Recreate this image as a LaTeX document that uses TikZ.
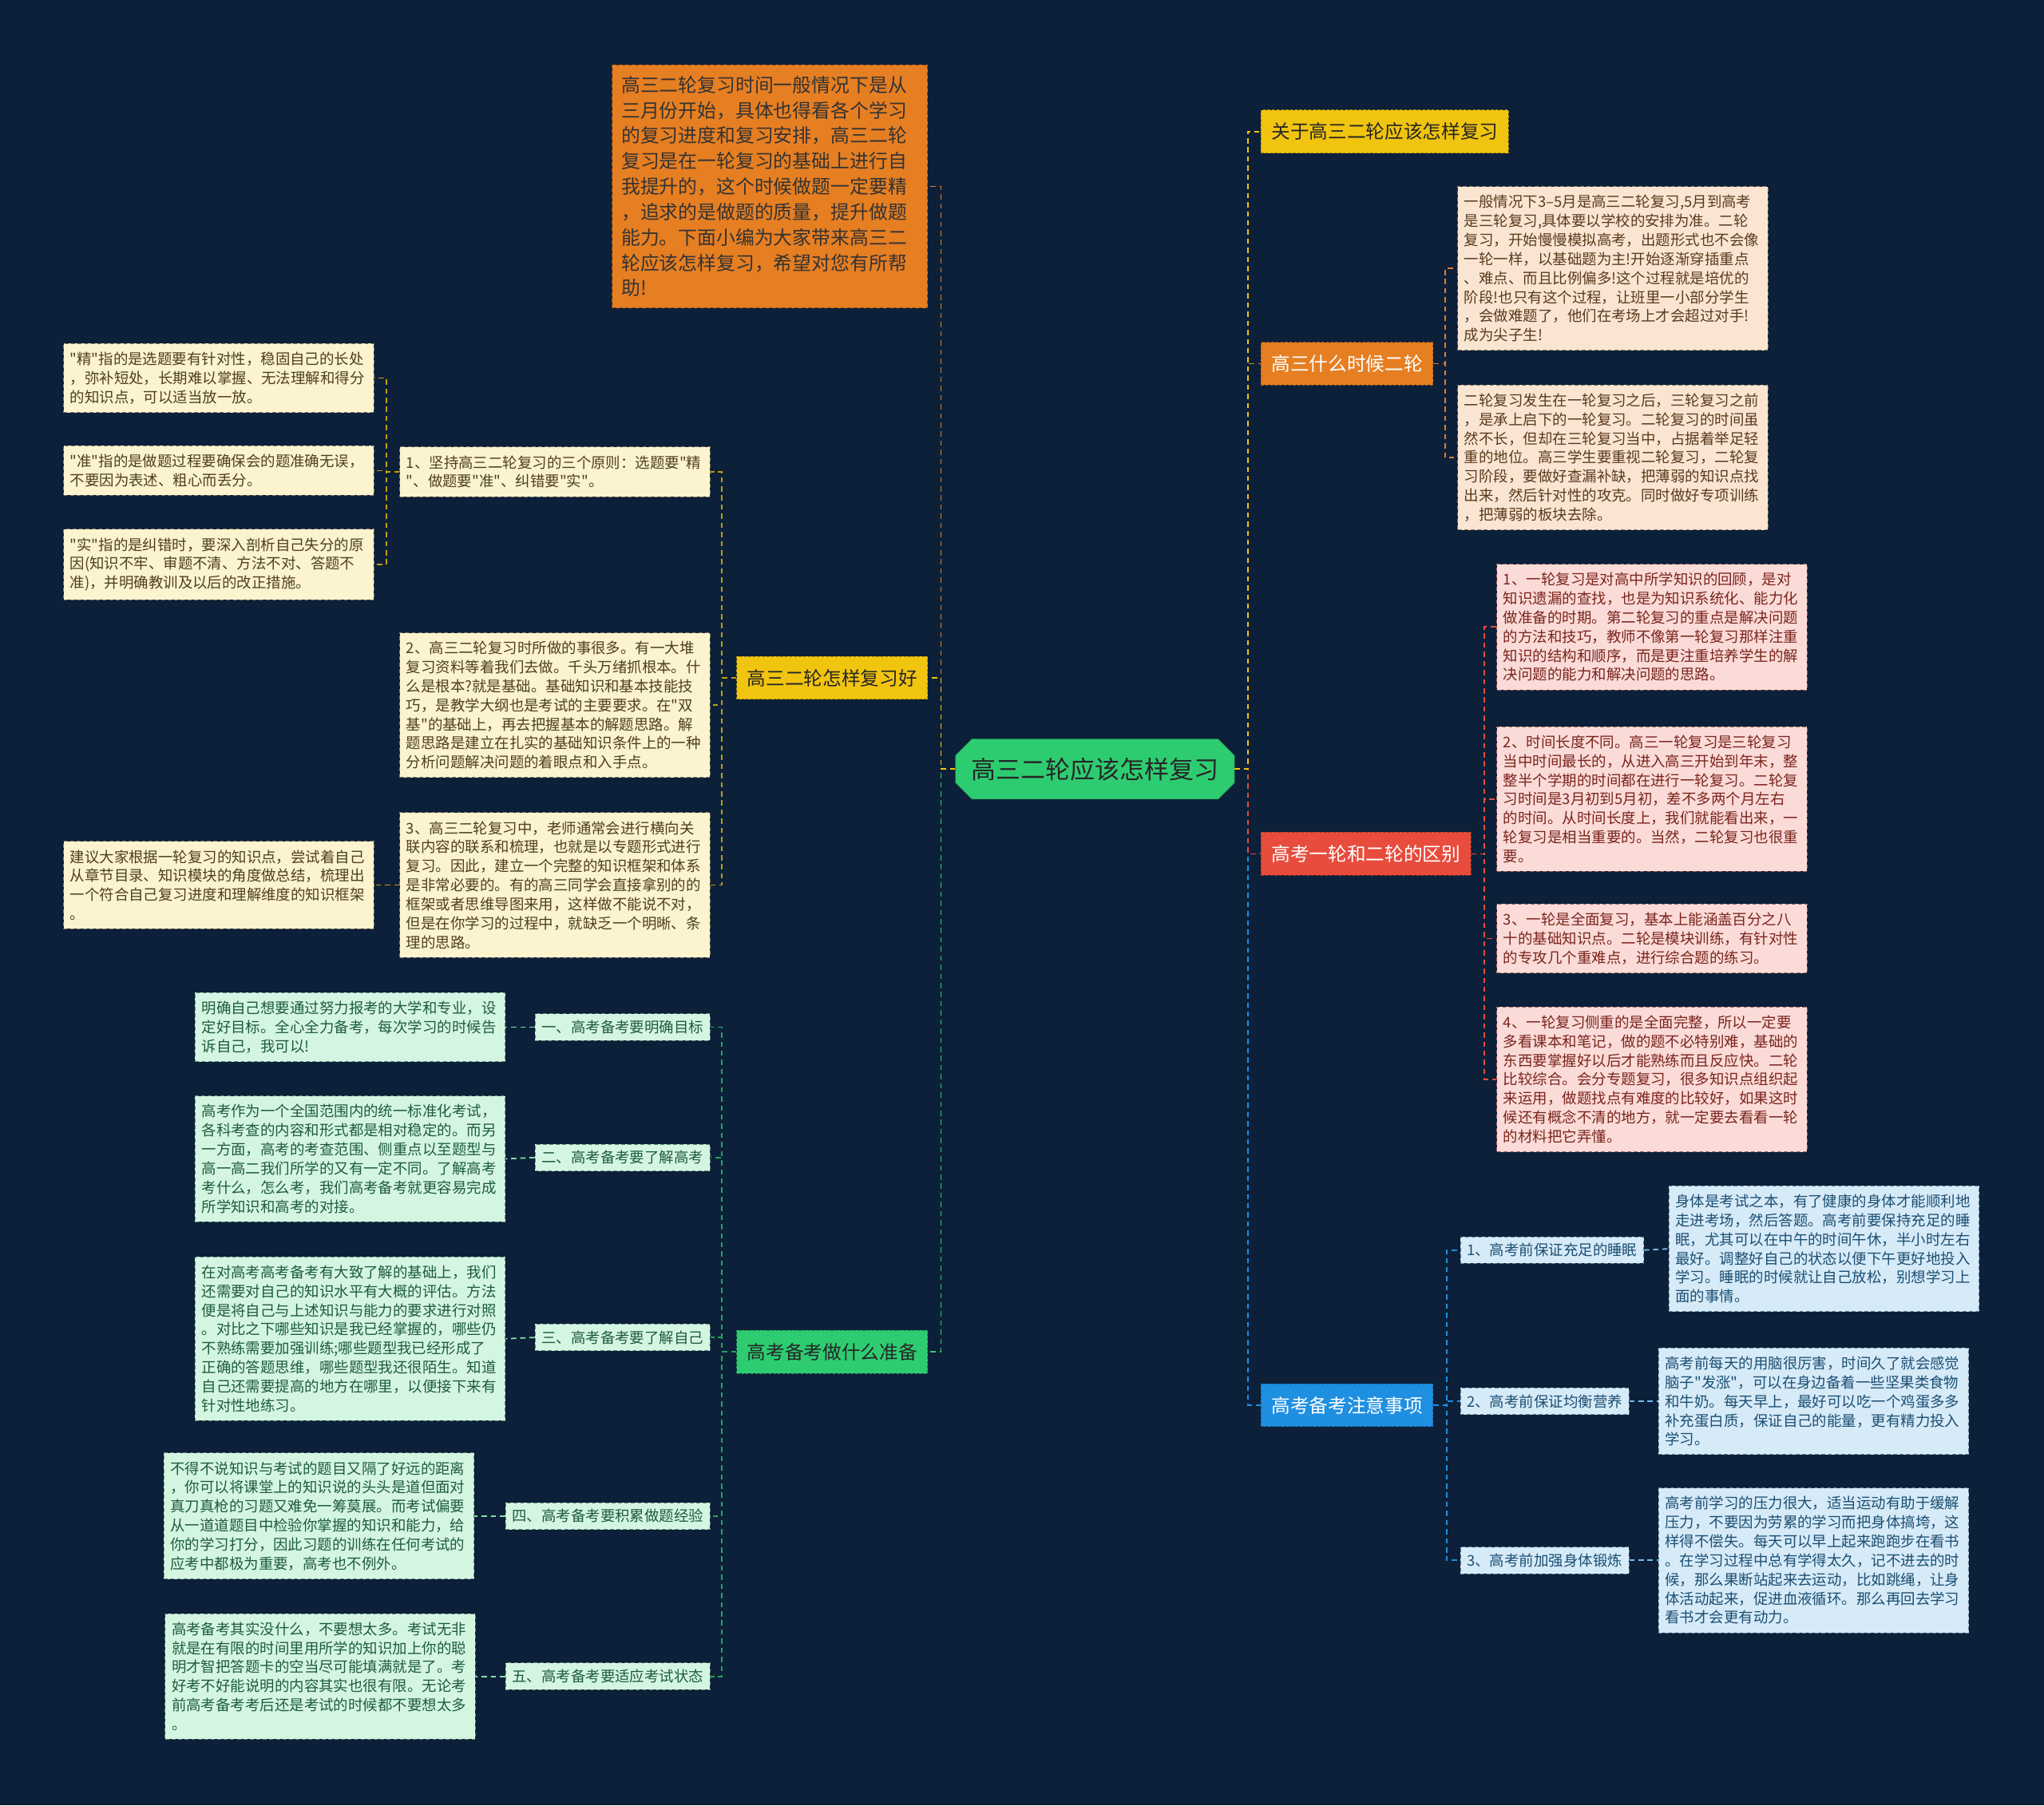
\documentclass[tikz,border=0pt]{standalone}
\usepackage{fontspec}
\setmainfont{Noto Sans CJK SC}[Ligatures=TeXOff]
\usetikzlibrary{shapes.misc}

\definecolor{bgnavy}{HTML}{0C2039}
\definecolor{hubgreen}{HTML}{2ECC71}
\definecolor{ylw}{HTML}{F1C40F}
\definecolor{org}{HTML}{E67E22}
\definecolor{red}{HTML}{E74C3C}
\definecolor{blu}{HTML}{1E8FE1}
\definecolor{grn}{HTML}{2ECC71}
\definecolor{ylwleaf}{HTML}{FCF3CF}
\definecolor{ylwtext}{HTML}{4D4020}
\definecolor{pchleaf}{HTML}{FAE5D3}
\definecolor{pchtext}{HTML}{5A3A1C}
\definecolor{pnkleaf}{HTML}{FADBD8}
\definecolor{pnktext}{HTML}{7B241C}
\definecolor{grnleaf}{HTML}{D5F5E3}
\definecolor{grntext}{HTML}{1D5C3A}
\definecolor{bluleaf}{HTML}{D6EAF8}
\definecolor{blutext}{HTML}{1B4F72}

\tikzset{
  link/.style={draw=#1, dash pattern=on 4pt off 3pt, line width=1.1pt},
  hub/.style={chamfered rectangle, chamfered rectangle xsep=10pt, fill=hubgreen, draw=hubgreen!70!black,
    minimum width=214pt, minimum height=46pt, inner sep=0pt, text=black!85, font=\fontsize{19}{22}\selectfont},
  branch/.style={fill=#1, draw=#1!70!black, dash pattern=on 2pt off 1.5pt, line width=0.6pt,
    minimum height=33pt, inner xsep=8pt, font=\fontsize{14.5}{17}\selectfont},
  intro/.style={fill=org, draw=org!60!black, dash pattern=on 3pt off 2pt, line width=0.6pt, text=black!80,
    align=left, text width=228pt, inner xsep=7pt, inner ysep=8.5pt, font=\fontsize{14.6}{19.5}\selectfont},
  leaf/.style={fill=#1leaf, text=#1text, draw=#1text!70, dash pattern=on 3pt off 2pt, line width=0.6pt,
    align=left, text width=228pt, inner xsep=5pt, inner ysep=6.5pt, font=\fontsize{11.3}{14.6}\selectfont},
  tag/.style={fill=#1leaf, text=#1text, draw=#1text!70, dash pattern=on 3pt off 2pt, line width=0.6pt,
    inner xsep=5pt, inner ysep=5pt, font=\fontsize{11.3}{14.6}\selectfont},
}

\begin{document}
\begin{tikzpicture}[x=1pt,y=-1pt]
\fill[bgnavy] (0,0) rectangle (1568,1385);

\node[hub] (root) at (840,590) {高三二轮应该怎样复习};

% left side
\node[intro, anchor=east] (intro) at (712,143) {高三二轮复习时间一般情况下是从\\三月份开始，具体也得看各个学习\\的复习进度和复习安排，高三二轮\\复习是在一轮复习的基础上进行自\\我提升的，这个时候做题一定要精\\，追求的是做题的质量，提升做题\\能力。下面小编为大家带来高三二\\轮应该怎样复习，希望对您有所帮\\助!};
\node[branch=ylw, text=black!85, anchor=east] (howgood) at (712,520) {高三二轮怎样复习好};
\node[branch=grn, text=black!85, anchor=east] (prep) at (712,1037) {高考备考做什么准备};

\node[leaf=ylw, anchor=east] (rule) at (545,362) {1、坚持高三二轮复习的三个原则：选题要"精\\"、做题要"准"、纠错要"实"。};
\node[leaf=ylw, anchor=east] (basics) at (545,541) {2、高三二轮复习时所做的事很多。有一大堆\\复习资料等着我们去做。千头万绪抓根本。什\\么是根本?就是基础。基础知识和基本技能技\\巧，是教学大纲也是考试的主要要求。在"双\\基"的基础上，再去把握基本的解题思路。解\\题思路是建立在扎实的基础知识条件上的一种\\分析问题解决问题的着眼点和入手点。};
\node[leaf=ylw, anchor=east] (frame) at (545,679) {3、高三二轮复习中，老师通常会进行横向关\\联内容的联系和梳理，也就是以专题形式进行\\复习。因此，建立一个完整的知识框架和体系\\是非常必要的。有的高三同学会直接拿别的的\\框架或者思维导图来用，这样做不能说不对，\\但是在你学习的过程中，就缺乏一个明晰、条\\理的思路。};

\node[leaf=ylw, anchor=east] (jing) at (287,290) {"精"指的是选题要有针对性，稳固自己的长处\\，弥补短处，长期难以掌握、无法理解和得分\\的知识点，可以适当放一放。};
\node[leaf=ylw, anchor=east] (zhun) at (287,361) {"准"指的是做题过程要确保会的题准确无误，\\不要因为表述、粗心而丢分。};
\node[leaf=ylw, anchor=east] (shi) at (287,433) {"实"指的是纠错时，要深入剖析自己失分的原\\因(知识不牢、审题不清、方法不对、答题不\\准)，并明确教训及以后的改正措施。};
\node[leaf=ylw, anchor=east] (advice) at (287,679) {建议大家根据一轮复习的知识点，尝试着自己\\从章节目录、知识模块的角度做总结，梳理出\\一个符合自己复习进度和理解维度的知识框架\\。};

\node[tag=grn, anchor=east] (goal) at (545,788) {一、高考备考要明确目标};
\node[tag=grn, anchor=east] (know) at (545,888) {二、高考备考要了解高考};
\node[tag=grn, anchor=east] (self) at (545,1026) {三、高考备考要了解自己};
\node[tag=grn, anchor=east] (drill) at (545,1163) {四、高考备考要积累做题经验};
\node[tag=grn, anchor=east] (calm) at (545,1286) {五、高考备考要适应考试状态};

\node[leaf=grn, anchor=east] (goaltxt) at (388,788) {明确自己想要通过努力报考的大学和专业，设\\定好目标。全心全力备考，每次学习的时候告\\诉自己，我可以!};
\node[leaf=grn, anchor=east] (knowtxt) at (388,889) {高考作为一个全国范围内的统一标准化考试，\\各科考查的内容和形式都是相对稳定的。而另\\一方面，高考的考查范围、侧重点以至题型与\\高一高二我们所学的又有一定不同。了解高考\\考什么，怎么考，我们高考备考就更容易完成\\所学知识和高考的对接。};
\node[leaf=grn, anchor=east] (selftxt) at (388,1027) {在对高考高考备考有大致了解的基础上，我们\\还需要对自己的知识水平有大概的评估。方法\\便是将自己与上述知识与能力的要求进行对照\\。对比之下哪些知识是我已经掌握的，哪些仍\\不熟练需要加强训练;哪些题型我已经形成了\\正确的答题思维，哪些题型我还很陌生。知道\\自己还需要提高的地方在哪里，以便接下来有\\针对性地练习。};
\node[leaf=grn, anchor=east] (drilltxt) at (364,1163) {不得不说知识与考试的题目又隔了好远的距离\\，你可以将课堂上的知识说的头头是道但面对\\真刀真枪的习题又难免一筹莫展。而考试偏要\\从一道道题目中检验你掌握的知识和能力，给\\你的学习打分，因此习题的训练在任何考试的\\应考中都极为重要，高考也不例外。};
\node[leaf=grn, anchor=east] (calmtxt) at (365,1286) {高考备考其实没什么，不要想太多。考试无非\\就是在有限的时间里用所学的知识加上你的聪\\明才智把答题卡的空当尽可能填满就是了。考\\好考不好能说明的内容其实也很有限。无论考\\前高考备考考后还是考试的时候都不要想太多\\。};

% right side
\node[branch=ylw, text=black!85, anchor=west] (about) at (967,101) {关于高三二轮应该怎样复习};
\node[branch=org, text=white, anchor=west] (when) at (967,279) {高三什么时候二轮};
\node[branch=red, text=white, anchor=west] (diff) at (967,655) {高考一轮和二轮的区别};
\node[branch=blu, text=white, anchor=west] (care) at (967,1078) {高考备考注意事项};

\node[leaf=pch, anchor=west] (whenA) at (1118,206) {一般情况下3–5月是高三二轮复习,5月到高考\\是三轮复习,具体要以学校的安排为准。二轮\\复习，开始慢慢模拟高考，出题形式也不会像\\一轮一样，以基础题为主!开始逐渐穿插重点\\、难点、而且比例偏多!这个过程就是培优的\\阶段!也只有这个过程，让班里一小部分学生\\，会做难题了，他们在考场上才会超过对手!\\成为尖子生!};
\node[leaf=pch, anchor=west] (whenB) at (1118,351) {二轮复习发生在一轮复习之后，三轮复习之前\\，是承上启下的一轮复习。二轮复习的时间虽\\然不长，但却在三轮复习当中，占据着举足轻\\重的地位。高三学生要重视二轮复习，二轮复\\习阶段，要做好查漏补缺，把薄弱的知识点找\\出来，然后针对性的攻克。同时做好专项训练\\，把薄弱的板块去除。};

\node[leaf=pnk, anchor=west] (diffA) at (1148,481) {1、一轮复习是对高中所学知识的回顾，是对\\知识遗漏的查找，也是为知识系统化、能力化\\做准备的时期。第二轮复习的重点是解决问题\\的方法和技巧，教师不像第一轮复习那样注重\\知识的结构和顺序，而是更注重培养学生的解\\决问题的能力和解决问题的思路。};
\node[leaf=pnk, anchor=west] (diffB) at (1148,613) {2、时间长度不同。高三一轮复习是三轮复习\\当中时间最长的，从进入高三开始到年末，整\\整半个学期的时间都在进行一轮复习。二轮复\\习时间是3月初到5月初，差不多两个月左右\\的时间。从时间长度上，我们就能看出来，一\\轮复习是相当重要的。当然，二轮复习也很重\\要。};
\node[leaf=pnk, anchor=west] (diffC) at (1148,720) {3、一轮是全面复习，基本上能涵盖百分之八\\十的基础知识点。二轮是模块训练，有针对性\\的专攻几个重难点，进行综合题的练习。};
\node[leaf=pnk, anchor=west] (diffD) at (1148,828) {4、一轮复习侧重的是全面完整，所以一定要\\多看课本和笔记，做的题不必特别难，基础的\\东西要掌握好以后才能熟练而且反应快。二轮\\比较综合。会分专题复习，很多知识点组织起\\来运用，做题找点有难度的比较好，如果这时\\候还有概念不清的地方，就一定要去看看一轮\\的材料把它弄懂。};

\node[tag=blu, anchor=west] (sleep) at (1120,959) {1、高考前保证充足的睡眠};
\node[tag=blu, anchor=west] (food) at (1120,1075) {2、高考前保证均衡营养};
\node[tag=blu, anchor=west] (sport) at (1120,1197) {3、高考前加强身体锻炼};

\node[leaf=blu, anchor=west] (sleeptxt) at (1280,958) {身体是考试之本，有了健康的身体才能顺利地\\走进考场，然后答题。高考前要保持充足的睡\\眠，尤其可以在中午的时间午休，半小时左右\\最好。调整好自己的状态以便下午更好地投入\\学习。睡眠的时候就让自己放松，别想学习上\\面的事情。};
\node[leaf=blu, anchor=west] (foodtxt) at (1272,1075) {高考前每天的用脑很厉害，时间久了就会感觉\\脑子"发涨"，可以在身边备着一些坚果类食物\\和牛奶。每天早上，最好可以吃一个鸡蛋多多\\补充蛋白质，保证自己的能量，更有精力投入\\学习。};
\node[leaf=blu, anchor=west] (sporttxt) at (1272,1197) {高考前学习的压力很大，适当运动有助于缓解\\压力，不要因为劳累的学习而把身体搞垮，这\\样得不偿失。每天可以早上起来跑跑步在看书\\。在学习过程中总有学得太久，记不进去的时\\候，那么果断站起来去运动，比如跳绳，让身\\体活动起来，促进血液循环。那么再回去学习\\看书才会更有动力。};

% connectors
\draw[link=org] (root.west) -- ++(-11,0) |- (intro.east);
\draw[link=grn] (root.west) -- ++(-11,0) |- (prep.east);
\draw[link=ylw] (root.west) -- ++(-11,0) |- (howgood.east);
\foreach \c in {rule,basics,frame}
  \draw[link=ylw!80!black] (howgood.west) -- ++(-11,0) |- (\c.east);
\foreach \c in {jing,zhun,shi}
  \draw[link=ylw!80!black] (rule.west) -- ++(-10,0) |- (\c.east);
\draw[link=ylw!80!black] (frame.west) -- (advice.east);
\foreach \c in {goal,know,self,drill,calm}
  \draw[link=grn!80!black] (prep.west) -- ++(-11,0) |- (\c.east);
\draw[link=grn!60] (goal.west) -- (goaltxt.east);
\draw[link=grn!60] (know.west) -- (knowtxt.east);
\draw[link=grn!60] (self.west) -- (selftxt.east);
\draw[link=grn!60] (drill.west) -- (drilltxt.east);
\draw[link=grn!60] (calm.west) -- (calmtxt.east);

\draw[link=blu] (root.east) -- ++(10,0) |- (care.west);
\draw[link=red] (root.east) -- ++(10,0) |- (diff.west);
\draw[link=org] (root.east) -- ++(10,0) |- (when.west);
\draw[link=ylw] (root.east) -- ++(10,0) |- (about.west);
\foreach \c in {whenA,whenB}
  \draw[link=org] (when.east) -- ++(9,0) |- (\c.west);
\foreach \c in {diffA,diffB,diffC,diffD}
  \draw[link=red] (diff.east) -- ++(10,0) |- (\c.west);
\foreach \c in {sleep,food,sport}
  \draw[link=blu] (care.east) -- ++(10,0) |- (\c.west);
\draw[link=blu!60] (sleep.east) -- (sleeptxt.west);
\draw[link=blu!60] (food.east) -- (foodtxt.west);
\draw[link=blu!60] (sport.east) -- (sporttxt.west);
\end{tikzpicture}
\end{document}
